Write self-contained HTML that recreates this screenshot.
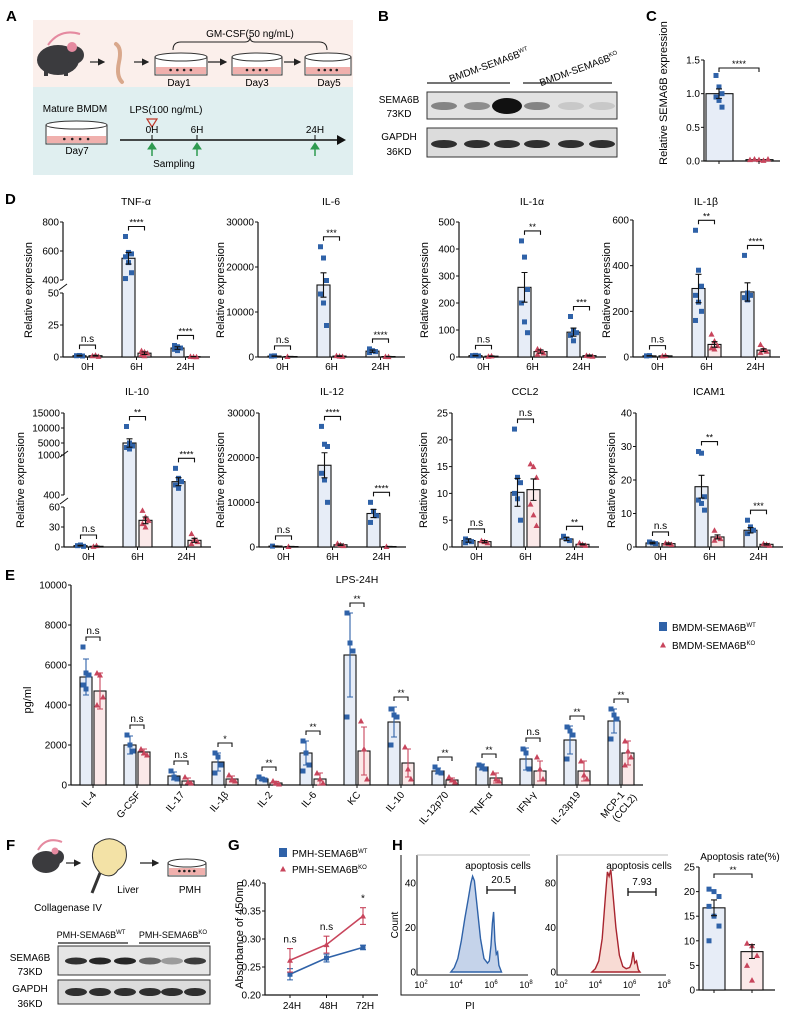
<!DOCTYPE html>
<html><head><meta charset="utf-8"><style>
html,body{margin:0;padding:0;background:#fff;}
svg{display:block;font-family:"Liberation Sans",Arial,sans-serif;}
</style></head><body>
<svg id="fig" width="797" height="1018" viewBox="0 0 797 1018" xmlns="http://www.w3.org/2000/svg">
<!-- Panel A -->
<g>
<text x="6" y="21" font-size="15" font-weight="bold">A</text>
<rect x="33" y="20" width="320" height="67" fill="#fbefeb"/>
<rect x="33" y="87" width="320" height="88" fill="#e0eff0"/>
<text x="250" y="37" font-size="10" text-anchor="middle">GM-CSF(50 ng/mL)</text>
<path d="M173,50 Q173,42 181,42 L245,42 Q250,42 250,37 Q250,42 255,42 L319,42 Q327,42 327,50" fill="none" stroke="#222" stroke-width="1"/>
<g>
<path d="M48,45 Q60,28 80,34" fill="none" stroke="#e58aa0" stroke-width="2"/>
<ellipse cx="58" cy="60" rx="21" ry="15" fill="#3b3b3e"/>
<ellipse cx="74" cy="55" rx="10" ry="9" fill="#3b3b3e"/>
<ellipse cx="72" cy="47" rx="5" ry="5" fill="#e58aa0"/>
<rect x="44" y="70" width="4" height="6" fill="#3b3b3e"/><rect x="64" y="70" width="4" height="6" fill="#3b3b3e"/>
</g>
<path d="M90,62 L104,62" stroke="#222" stroke-width="1.2" marker-end="url(#ah)"/>
<path d="M116,44 Q122,48 119,62 Q116,76 122,82" fill="none" stroke="#d9a88c" stroke-width="4" stroke-linecap="round"/>
<path d="M134,62 L148,62" stroke="#222" stroke-width="1.2" marker-end="url(#ah)"/>
<path d="M208,62 L226,62" stroke="#222" stroke-width="1.2" marker-end="url(#ah)"/>
<path d="M284,62 L300,62" stroke="#222" stroke-width="1.2" marker-end="url(#ah)"/>
<g id="dishes"></g>
<text x="179" y="86" font-size="10" text-anchor="middle">Day1</text>
<text x="257" y="86" font-size="10" text-anchor="middle">Day3</text>
<text x="329" y="86" font-size="10" text-anchor="middle">Day5</text>
<text x="75" y="112" font-size="10" text-anchor="middle">Mature BMDM</text>
<text x="77" y="154" font-size="10" text-anchor="middle">Day7</text>
<text x="166" y="113" font-size="10" text-anchor="middle">LPS(100 ng/mL)</text>
<path d="M147,119 L157,119 L152,127 Z" fill="none" stroke="#c0392b" stroke-width="1.2"/>
<path d="M120,140 L340,140" stroke="#111" stroke-width="1.4"/>
<path d="M337,135 L346,140 L337,145 Z" fill="#111"/>
<text x="152" y="133" font-size="10" text-anchor="middle">0H</text>
<text x="197" y="133" font-size="10" text-anchor="middle">6H</text>
<text x="315" y="133" font-size="10" text-anchor="middle">24H</text>
<path d="M152,135 V140 M197,135 V140 M315,135 V140" stroke="#111"/>
<g fill="#2e9a50" stroke="#2e9a50">
<path d="M152,156 V148" stroke-width="1.5"/><path d="M148,149 L152,143 L156,149 Z"/>
<path d="M197,156 V148" stroke-width="1.5"/><path d="M193,149 L197,143 L201,149 Z"/>
<path d="M315,156 V148" stroke-width="1.5"/><path d="M311,149 L315,143 L319,149 Z"/>
</g>
<text x="174" y="167" font-size="10" text-anchor="middle">Sampling</text>
</g>
<defs><marker id="ah" markerWidth="6" markerHeight="6" refX="5" refY="3" orient="auto"><path d="M0,0 L6,3 L0,6 Z" fill="#222"/></marker></defs>

<!-- Panel B -->
<g>
<text x="378" y="21" font-size="15" font-weight="bold">B</text>
<text x="490" y="68" font-size="10" text-anchor="middle" transform="rotate(-20 490 68)">BMDM-SEMA6B<tspan font-size="6" dy="-4">WT</tspan></text>
<text x="580" y="72" font-size="10" text-anchor="middle" transform="rotate(-20 580 72)">BMDM-SEMA6B<tspan font-size="6" dy="-4">KO</tspan></text>
<path d="M427,83 H510 M523,83 H612" stroke="#222" stroke-width="1.2"/>
<text x="399" y="103" font-size="10" text-anchor="middle">SEMA6B</text>
<text x="399" y="117" font-size="10" text-anchor="middle">73KD</text>
<text x="399" y="140" font-size="10" text-anchor="middle">GAPDH</text>
<text x="399" y="155" font-size="10" text-anchor="middle">36KD</text>
<rect x="427" y="92" width="190" height="27" fill="#e2e2e2" stroke="#333"/>
<rect x="427" y="128" width="190" height="29" fill="#dcdcdc" stroke="#333"/>
<g id="bandsB"></g>
</g>

<!-- Panel F static -->
<g>
<text x="6" y="850" font-size="15" font-weight="bold">F</text>
<g>
<path d="M38,850 Q46,836 62,842" fill="none" stroke="#e58aa0" stroke-width="2"/>
<ellipse cx="46" cy="862" rx="14" ry="11" fill="#3b3b3e"/>
<ellipse cx="57" cy="857" rx="7" ry="7" fill="#3b3b3e"/>
<ellipse cx="55" cy="851" rx="3.5" ry="3.5" fill="#e58aa0"/>
</g>
<path d="M66,863 L80,863" stroke="#222" stroke-width="1.2" marker-end="url(#ah)"/>
<g>
<path d="M95,845 Q110,832 125,846 Q130,862 118,870 Q112,880 100,873 Q88,860 95,845 Z" fill="#f3e2a6" stroke="#333"/>
<path d="M100,873 L92,893" stroke="#333" stroke-width="3"/>
</g>
<path d="M140,863 L158,863" stroke="#222" stroke-width="1.2" marker-end="url(#ah)"/>
<text x="128" y="893" font-size="10" text-anchor="middle">Liver</text>
<text x="190" y="893" font-size="10" text-anchor="middle">PMH</text>
<text x="68" y="911" font-size="10" text-anchor="middle">Collagenase IV</text>
<text x="91" y="938" font-size="9" text-anchor="middle">PMH-SEMA6B<tspan font-size="6" dy="-4">WT</tspan></text>
<text x="173" y="938" font-size="9" text-anchor="middle">PMH-SEMA6B<tspan font-size="6" dy="-4">KO</tspan></text>
<path d="M58,943 H128 M139,943 H210" stroke="#222" stroke-width="1.2"/>
<rect x="58" y="946" width="152" height="29" fill="#e6e6e6" stroke="#333"/>
<rect x="58" y="980" width="152" height="24" fill="#dcdcdc" stroke="#333"/>
<text x="30" y="961" font-size="10" text-anchor="middle">SEMA6B</text>
<text x="30" y="975" font-size="10" text-anchor="middle">73KD</text>
<text x="30" y="992" font-size="10" text-anchor="middle">GAPDH</text>
<text x="30" y="1007" font-size="10" text-anchor="middle">36KD</text>
<g id="bandsF"></g>
</g>
<g id="charts"></g>
</svg>
<script>
// ---------- data ----------
const dCats = ["0H", "6H", "24H"];
const tnfWT = [1, 550, 7], tnfKO = [1, 3, 0.3];
const tnfWTErr = [0.3, 40, 1], tnfKOErr = [0.3, 1, 0.1];
const tnfWTPts = [[1, 1.2, 0.8], [700, 590, 580, 560, 520, 450, 410], [9, 8, 7, 6, 5]];
const tnfKOPts = [[1, 1.5, 0.5], [5, 4, 3, 2, 1], [0.5, 0.3, 0.2]];
const tnfSig = ["n.s", "****", "****"];
const il6WT = [200, 16000, 1300], il6KO = [100, 200, 100];
const il6WTErr = [50, 2700, 250], il6KOErr = [30, 80, 30];
const il6WTPts = [[200, 250], [24500, 22000, 17000, 14000, 12000, 7000], [1800, 1400, 1200, 1000]];
const il6KOPts = [[100], [300, 200, 150], [100, 80]];
const il6Sig = ["n.s", "***", "****"];
const il1aWT = [5, 258, 92], il1aKO = [3, 20, 5];
const il1aWTErr = [1, 55, 15], il1aKOErr = [1, 6, 2];
const il1aWTPts = [[5, 6, 4], [430, 370, 250, 200, 130, 90], [150, 100, 90, 80, 60]];
const il1aKOPts = [[3, 4], [30, 25, 15, 10], [6, 4, 3]];
const il1aSig = ["n.s", "**", "***"];
const il1bWT = [5, 300, 285], il1bKO = [5, 55, 30];
const il1bWTErr = [1, 62, 40], il1bKOErr = [1, 12, 6];
const il1bWTPts = [[5, 6], [555, 380, 310, 270, 240, 200, 160], [445, 280, 270, 260, 250]];
const il1bKOPts = [[5, 6], [100, 70, 50, 40, 35], [55, 35, 25, 20]];
const il1bSig = ["n.s", "**", "****"];
const il10WT = [2, 5000, 600], il10KO = [1, 40, 10];
const il10WTErr = [0.5, 1400, 60], il10KOErr = [0.5, 5, 3];
const il10WTPts = [[2, 3, 1], [10500, 5000, 4000, 3500, 3000], [800, 650, 600, 550, 500]];
const il10KOPts = [[1, 2], [55, 45, 40, 35, 30], [20, 12, 8, 5]];
const il10Sig = ["n.s", "**", "****"];
const il12WT = [200, 18300, 7500], il12KO = [100, 500, 100];
const il12WTErr = [50, 2800, 900], il12KOErr = [30, 150, 30];
const il12WTPts = [[200], [27000, 23000, 22500, 16500, 15000, 10000], [10000, 8000, 7000, 5500]];
const il12KOPts = [[100], [800, 500, 300], [100]];
const il12Sig = ["n.s", "****", "****"];
const ccl2WT = [1.2, 10.2, 1.5], ccl2KO = [1.0, 10.7, 0.5];
const ccl2WTErr = [0.3, 2.6, 0.3], ccl2KOErr = [0.2, 2.0, 0.1];
const ccl2WTPts = [[1.5, 1.2, 1, 0.8], [22, 13, 12, 10, 9, 5], [2, 1.5, 1.2]];
const ccl2KOPts = [[1.2, 1, 0.8], [15.5, 15, 13, 8, 6, 4], [0.8, 0.5, 0.3]];
const ccl2Sig = ["n.s", "n.s", "**"];
const icamWT = [1.2, 18, 5], icamKO = [1.0, 3, 0.8];
const icamWTErr = [0.2, 3.4, 0.8], icamKOErr = [0.2, 0.6, 0.2];
const icamWTPts = [[1.5, 1.2, 1], [28.5, 28, 15, 14, 13, 11], [8, 6, 5, 4]];
const icamKOPts = [[1.2, 1, 0.8], [5, 3, 2.5, 2], [1, 0.8, 0.5]];
const icamSig = ["n.s", "**", "***"];

const eCats = ["IL-4", "G-CSF", "IL-17", "IL-1β", "IL-2", "IL-6", "KC", "IL-10", "IL-12p70", "TNF-α", "IFN-γ", "IL-23p19", "MCP-1|(CCL2)"];
const eWT = [5400, 2000, 450, 1150, 300, 1600, 6500, 3150, 700, 900, 1300, 2250, 3200];
const eKO = [4700, 1650, 200, 300, 100, 300, 1700, 1100, 250, 350, 700, 700, 1600];
const eWTErr = [900, 450, 200, 450, 80, 600, 2100, 750, 150, 150, 550, 700, 600];
const eKOErr = [900, 150, 150, 150, 80, 300, 1200, 700, 100, 250, 500, 500, 600];
const eWTPts = [[6900, 5600, 5500, 5000, 4800], [2500, 2000, 1700], [700, 400, 300], [1600, 1400, 1000, 600], [400, 300, 250], [2200, 1600, 1000, 700], [8600, 7100, 6700, 3400], [3800, 3500, 3400, 2000], [900, 700, 600], [1000, 900, 800], [1800, 1600, 800], [2900, 2700, 2500, 1300], [3800, 3500, 3300, 2300]];
const eKOPts = [[5600, 5500, 4400, 4000], [1800, 1600, 1500], [400, 150, 100], [500, 300, 200], [200, 100, 50], [600, 300, 100], [3200, 1800, 300], [1900, 800, 300], [400, 250, 150], [600, 300, 200], [1400, 800, 300], [1200, 500, 300], [2200, 1700, 1400, 1000]];
const eSig = ["n.s", "n.s", "n.s", "*", "**", "**", "**", "**", "**", "**", "n.s", "**", "**"];

const gCats = ["24H", "48H", "72H"];
const gWT = [0.237, 0.266, 0.285], gWTErr = [0.010, 0.007, 0.004];
const gKO = [0.262, 0.290, 0.341], gKOErr = [0.021, 0.015, 0.015];
const gSig = ["n.s", "n.s", "*"];

const h1Log = [3.7, 3.9, 4.1, 4.3, 4.5, 4.7, 4.85, 4.95, 5.05, 5.2, 5.4, 5.6, 5.8, 5.9, 6.0, 6.08, 6.15, 6.22, 6.3, 6.38, 6.45, 6.6];
const h1Count = [0, 2, 6, 14, 24, 33, 40, 43, 41, 30, 15, 6, 4, 5, 12, 22, 27, 14, 8, 9, 3, 0];
const h2Log = [3.8, 4.0, 4.2, 4.4, 4.6, 4.7, 4.8, 4.9, 5.0, 5.2, 5.4, 5.6, 5.8, 6.0, 6.1, 6.2, 6.3, 6.4, 6.5, 6.6];
const h2Count = [0, 3, 10, 30, 70, 90, 86, 92, 75, 40, 15, 5, 3, 4, 8, 18, 8, 10, 2, 0];
const apoWT = 16.7, apoKO = 7.8, apoWTErr = 1.6, apoKOErr = 1.4;
const apoWTPts = [20.5, 20, 19, 17, 15, 13, 10];
const apoKOPts = [9.5, 9, 7, 5, 2];
const cWT = 1.0, cKO = 0.02, cWTErr = 0.07;
const cWTPts = [1.27, 1.1, 1.0, 0.95, 0.9, 0.8];
const cKOPts = [0.02, 0.03, 0.02, 0.01, 0.03];

// ---------- helpers ----------
const NS = "http://www.w3.org/2000/svg";
const root = document.getElementById("charts");
const BLUE = "#2f62a8", RED = "#c8455c", WTF = "#e7edf7", KOF = "#fbe9e9";
function mk(tag, attrs, parent) {
  const e = document.createElementNS(NS, tag);
  for (const k in attrs) e.setAttribute(k, attrs[k]);
  (parent || root).appendChild(e);
  return e;
}
function tag(e, n, inter) {
  
  
  return e;
}
function txt(x, y, s, size, anchor, parent, extra) {
  const t = mk("text", Object.assign({x: x, y: y, "font-size": size, "text-anchor": anchor || "middle"}, extra || {}), parent);
  t.textContent = s;
  return t;
}
function segMap(segs) {
  return function (v) {
    let s = segs[segs.length - 1];
    for (const sg of segs) { if (v <= sg[1]) { s = sg; break; } }
    return s[2] + (v - s[0]) / (s[1] - s[0]) * (s[3] - s[2]);
  };
}
function sq(x, y, g, n) {
  const r = mk("rect", {x: x - 2.5, y: y - 2.5, width: 5, height: 5, fill: BLUE}, g);
  tag(r, n);
}
function tri(x, y, g, n) {
  const p = mk("path", {d: `M${x - 3},${y + 2.5} L${x + 3},${y + 2.5} L${x},${y - 3} Z`, fill: RED}, g);
  tag(p, n);
}
function errBar(x, y1, y2, col, g, n) {
  const p = mk("path", {d: `M${x},${y1} V${y2} M${x - 3},${y1} H${x + 3} M${x - 3},${y2} H${x + 3}`, stroke: col, "stroke-width": 1.1, fill: "none"}, g);
  tag(p, n);
}
function bracket(x1, x2, y, label, g, n) {
  const p = mk("path", {d: `M${x1},${y + 4} V${y} H${x2} V${y + 4}`, stroke: "#111", "stroke-width": 1.1, fill: "none"}, g);
  tag(p, n);
  const t = txt((x1 + x2) / 2, label === "n.s" ? y - 3 : y - 1, label, label === "n.s" ? 10 : 9, "middle", g);
  tag(t, n + "-label");
}

// ---------- grouped bar chart (panels D, E) ----------
function barChart(c) {
  const g = mk("g", {});
  tag(g, c.name);
  const y = segMap(c.segs);
  const y0 = c.segs[0][2];
  const n = c.cats.length;
  const xEnd = c.ox + n * c.band;
  const top = y(c.ticks[c.ticks.length - 1]);
  if (c.breaks) {
    c.segs.forEach(s => { const a = mk("path", {d: `M${c.ox},${s[2]} V${s[3]}`, stroke: "#111", "stroke-width": 1.2}, g); tag(a, "y-axis-segment"); });
    c.breaks.forEach(b => { const a = mk("path", {d: `M${c.ox - 4},${b + 3} L${c.ox + 4},${b - 3}`, stroke: "#111", "stroke-width": 1}, g); tag(a, "axis-break"); });
  } else {
    const a = mk("path", {d: `M${c.ox},${y0} V${top}`, stroke: "#111", "stroke-width": 1.2}, g); tag(a, "y-axis");
  }
  const xa = mk("path", {d: `M${c.ox},${y0} H${xEnd}`, stroke: "#111", "stroke-width": 1.2}, g); tag(xa, "x-axis");
  c.ticks.forEach((tv, i) => {
    const ty = y(tv);
    const tk = mk("path", {d: `M${c.ox - 3},${ty} H${c.ox}`, stroke: "#111"}, g); tag(tk, "y-tick");
    const lbl = c.tickLabels ? c.tickLabels[i] : String(tv);
    const t = txt(c.ox - 4, ty + 3.5, lbl, 10, "end", g); tag(t, "y-tick-label");
  });
  if (c.title) { const t = txt(c.titleX || (c.ox + xEnd) / 2, c.titleY, c.title, 10.5, "middle", g); tag(t, "chart-title"); }
  const yl = txt(c.ylx, c.yly, c.ylabel, 11, "middle", g, {transform: `rotate(-90 ${c.ylx} ${c.yly})`}); tag(yl, "y-axis-title");
  for (let i = 0; i < n; i++) {
    const cx = c.ox + c.band / 2 + i * c.band;
    const xw = cx - c.off, xk = cx + c.off;
    const b1 = mk("rect", {x: xw - c.bw / 2, y: y(c.wt[i]), width: c.bw, height: Math.max(0.5, y0 - y(c.wt[i])), fill: WTF, stroke: "#111", "stroke-width": 1.1}, g);
    tag(b1, "bar-wt-" + i);
    const b2 = mk("rect", {x: xk - c.bw / 2, y: y(c.ko[i]), width: c.bw, height: Math.max(0.5, y0 - y(c.ko[i])), fill: KOF, stroke: "#111", "stroke-width": 1.1}, g);
    tag(b2, "bar-ko-" + i);
    const ec1 = c.errColor ? BLUE : "#111", ec2 = c.errColor ? RED : "#111";
    c.wtPts[i].forEach((v, j) => sq(xw + ((j % 3) - 1) * 3, y(v), g, "point-wt"));
    c.koPts[i].forEach((v, j) => tri(xk + ((j % 3) - 1) * 3, y(v), g, "point-ko"));
    errBar(xw, y(Math.max(0, c.wt[i] - c.wtErr[i])), y(c.wt[i] + c.wtErr[i]), ec1, g, "error-wt-" + i);
    errBar(xk, y(Math.max(0, c.ko[i] - c.koErr[i])), y(c.ko[i] + c.koErr[i]), ec2, g, "error-ko-" + i);
    const tops = [y(c.wt[i] + c.wtErr[i]), y(c.ko[i] + c.koErr[i])].concat(c.wtPts[i].map(y), c.koPts[i].map(y));
    const by = Math.min.apply(null, tops) - 10;
    bracket(xw, xk, by, c.sig[i], g, "significance-" + i);
    const tk = mk("path", {d: `M${cx},${y0} V${y0 + 3}`, stroke: "#111"}, g); tag(tk, "x-tick");
    if (c.rotLabels) {
      const parts = c.cats[i].split("|");
      const lx = cx + 4, ly = y0 + 10;
      const t = mk("text", {x: lx, y: ly, "font-size": 10, "text-anchor": "end", transform: `rotate(-50 ${lx} ${ly})`}, g);
      tag(t, "x-tick-label");
      parts.forEach((p, k) => { const ts = mk("tspan", {x: lx + k * 6, dy: k === 0 ? 0 : 11}, t); ts.textContent = p; });
    } else {
      const t = txt(cx, y0 + 13, c.cats[i], 10, "middle", g); tag(t, "x-tick-label");
    }
  }
}

const TOPY0 = 357, TOPT = 222, BOTY0 = 547, BOTT = 413;
function dChart(name, ox, y0, yt, wt, ko, we, ke, wp, kp, sig, title, ticks, max, ylOff, extra) {
  barChart(Object.assign({name: name, ox: ox, band: 49, bw: 13, off: 8, cats: dCats, wt: wt, ko: ko, wtErr: we, koErr: ke, wtPts: wp, koPts: kp, sig: sig,
    title: title, titleY: y0 - 152, titleX: ox + 73, ticks: ticks, segs: [[0, max, y0, yt]], ylabel: "Relative expression", ylx: ox - ylOff, yly: y0 - 67}, extra || {}));
}
dChart("chart-tnf-alpha", 63, TOPY0, TOPT, tnfWT, tnfKO, tnfWTErr, tnfKOErr, tnfWTPts, tnfKOPts, tnfSig, "TNF-α", [0, 25, 50, 400, 600, 800], 800, 31,
  {segs: [[0, 50, 357, 293], [400, 800, 280, 222]], breaks: [287]});
dChart("chart-il6", 258, TOPY0, TOPT, il6WT, il6KO, il6WTErr, il6KOErr, il6WTPts, il6KOPts, il6Sig, "IL-6", [0, 10000, 20000, 30000], 30000, 34);
dChart("chart-il1a", 459, TOPY0, TOPT, il1aWT, il1aKO, il1aWTErr, il1aKOErr, il1aWTPts, il1aKOPts, il1aSig, "IL-1α", [0, 100, 200, 300, 400, 500], 500, 31);
dChart("chart-il1b", 633, TOPY0, 220, il1bWT, il1bKO, il1bWTErr, il1bKOErr, il1bWTPts, il1bKOPts, il1bSig, "IL-1β", [0, 200, 400, 600], 600, 23);
dChart("chart-il10", 64, BOTY0, BOTT, il10WT, il10KO, il10WTErr, il10KOErr, il10WTPts, il10KOPts, il10Sig, "IL-10", [0, 30, 60, 400, 1000, 5000, 10000, 15000], 15000, 40,
  {segs: [[0, 60, 547, 507], [400, 1000, 495, 455], [1000, 15000, 455, 413]], breaks: [501, 454]});
dChart("chart-il12", 259, BOTY0, BOTT, il12WT, il12KO, il12WTErr, il12KOErr, il12WTPts, il12KOPts, il12Sig, "IL-12", [0, 10000, 20000, 30000], 30000, 35);
dChart("chart-ccl2", 452, BOTY0, BOTT, ccl2WT, ccl2KO, ccl2WTErr, ccl2KOErr, ccl2WTPts, ccl2KOPts, ccl2Sig, "CCL2", [0, 5, 10, 15, 20, 25], 25, 25);
dChart("chart-icam1", 636, BOTY0, BOTT, icamWT, icamKO, icamWTErr, icamKOErr, icamWTPts, icamKOPts, icamSig, "ICAM1", [0, 10, 20, 30, 40], 40, 21);
{ const t = txt(5, 204, "D", 15, "start"); t.setAttribute("font-weight", "bold"); tag(t, "panel-d-label"); }

// Panel E
barChart({name: "chart-lps-24h", ox: 71, band: 44, bw: 12, off: 7, cats: eCats, wt: eWT, ko: eKO, wtErr: eWTErr, koErr: eKOErr, wtPts: eWTPts, koPts: eKOPts, sig: eSig,
  title: "LPS-24H", titleY: 583, titleX: 357, ticks: [0, 2000, 4000, 6000, 8000, 10000], segs: [[0, 10000, 785, 585]], ylabel: "pg/ml", ylx: 31, yly: 700, errColor: true, rotLabels: true});
{ const t = txt(5, 580, "E", 15, "start"); t.setAttribute("font-weight", "bold"); tag(t, "panel-e-label"); }
{ const lg = mk("g", {}); tag(lg, "legend-e");
  const r = mk("rect", {x: 659, y: 622, width: 8, height: 9, fill: BLUE}, lg); tag(r, "legend-wt-marker");
  const t1 = txt(672, 631, "BMDM-SEMA6B", 10, "start", lg); tag(t1, "legend-wt-entry");
  const s1 = mk("tspan", {"font-size": 6, dy: -4}, t1); s1.textContent = "WT";
  tri(663, 645, lg, "legend-ko-marker");
  const t2 = txt(672, 649, "BMDM-SEMA6B", 10, "start", lg); tag(t2, "legend-ko-entry");
  const s2 = mk("tspan", {"font-size": 6, dy: -4}, t2); s2.textContent = "KO";
}

// Panel C
{ const g = mk("g", {}); tag(g, "panel-c-chart");
  const t = txt(646, 21, "C", 15, "start", g); t.setAttribute("font-weight", "bold"); tag(t, "panel-c-label");
  const y = v => 161 - v / 1.5 * 101, ox = 704;
  const ax = mk("path", {d: `M${ox},60 V161 H780`, stroke: "#111", "stroke-width": 1.2, fill: "none"}, g); tag(ax, "axes");
  [0, 0.5, 1.0, 1.5].forEach(v => { mk("path", {d: `M${ox - 3},${y(v)} H${ox}`, stroke: "#111"}, g); const l = txt(ox - 4, y(v) + 3.5, v.toFixed(1), 10, "end", g); tag(l, "y-tick-label"); });
  const yl = txt(667, 93, "Relative SEMA6B expression", 11, "middle", g, {transform: "rotate(-90 667 93)"}); tag(yl, "y-axis-title");
  const b1 = mk("rect", {x: 706, y: y(cWT), width: 27, height: 161 - y(cWT), fill: WTF, stroke: "#111", "stroke-width": 1.1}, g); tag(b1, "bar-wt");
  const b2 = mk("rect", {x: 746, y: y(cKO), width: 27, height: Math.max(0.5, 161 - y(cKO)), fill: KOF, stroke: "#111", "stroke-width": 1.1}, g); tag(b2, "bar-ko");
  cWTPts.forEach((v, j) => sq(719 + ((j % 3) - 1) * 3, y(v), g, "point-wt"));
  cKOPts.forEach((v, j) => tri(750 + j * 4.5, y(v), g, "point-ko"));
  errBar(719, y(cWT - cWTErr), y(cWT + cWTErr), "#111", g, "error-wt");
  bracket(719, 759, 68, "****", g, "significance");
  mk("path", {d: "M719,161 V164 M759,161 V164", stroke: "#111"}, g);
}

// Panel G
{ const g = mk("g", {}); tag(g, "panel-g-chart");
  const t = txt(228, 850, "G", 15, "start", g); t.setAttribute("font-weight", "bold"); tag(t, "panel-g-label");
  const y = v => 995 - (v - 0.2) / 0.2 * 112, x = i => 290 + i * 36.5, ox = 265;
  const ax = mk("path", {d: `M${ox},883 V995 H378`, stroke: "#111", "stroke-width": 1.2, fill: "none"}, g); tag(ax, "axes");
  [0.20, 0.25, 0.30, 0.35, 0.40].forEach(v => { mk("path", {d: `M${ox - 3},${y(v)} H${ox}`, stroke: "#111"}, g); const l = txt(ox - 4, y(v) + 3.5, v.toFixed(2), 10, "end", g); tag(l, "y-tick-label"); });
  gCats.forEach((cName, i) => { mk("path", {d: `M${x(i)},995 V998`, stroke: "#111"}, g); const l = txt(x(i) + 2, 1009, cName, 10, "middle", g); tag(l, "x-tick-label"); });
  const yl = txt(243, 935, "Absorbance of 450nm", 11, "middle", g, {transform: "rotate(-90 243 935)"}); tag(yl, "y-axis-title");
  const lk = mk("path", {d: gKO.map((v, i) => (i ? "L" : "M") + x(i) + "," + y(v)).join(" "), stroke: RED, "stroke-width": 1.6, fill: "none"}, g); tag(lk, "line-ko");
  const lw = mk("path", {d: gWT.map((v, i) => (i ? "L" : "M") + x(i) + "," + y(v)).join(" "), stroke: BLUE, "stroke-width": 1.6, fill: "none"}, g); tag(lw, "line-wt");
  gWT.forEach((v, i) => { errBar(x(i), y(v - gWTErr[i]), y(v + gWTErr[i]), BLUE, g, "error-wt"); sq(x(i), y(v), g, "point-wt"); });
  gKO.forEach((v, i) => { errBar(x(i), y(v - gKOErr[i]), y(v + gKOErr[i]), RED, g, "error-ko"); tri(x(i), y(v), g, "point-ko"); });
  gSig.forEach((s, i) => { const l = txt(x(i), y(gKO[i] + gKOErr[i]) - 6, s, 10, "middle", g); tag(l, "significance-label"); });
  const r = mk("rect", {x: 279, y: 848, width: 8, height: 9, fill: BLUE}, g); tag(r, "legend-wt-marker");
  const t1 = txt(292, 857, "PMH-SEMA6B", 10, "start", g); tag(t1, "legend-wt-entry");
  const s1 = mk("tspan", {"font-size": 6, dy: -4}, t1); s1.textContent = "WT";
  tri(283, 869, g, "legend-ko-marker");
  const t2 = txt(292, 873, "PMH-SEMA6B", 10, "start", g); tag(t2, "legend-ko-entry");
  const s2 = mk("tspan", {"font-size": 6, dy: -4}, t2); s2.textContent = "KO";
}

// Panel H
{ const g = mk("g", {}); tag(g, "panel-h");
  const t = txt(392, 850, "H", 15, "start", g); t.setAttribute("font-weight", "bold"); tag(t, "panel-h-label");
  const fr = mk("path", {d: "M401,855 V995 H640", stroke: "#111", "stroke-width": 1, fill: "none"}, g); tag(fr, "flow-frame");
  const cl = txt(398, 925, "Count", 10, "middle", g, {transform: "rotate(-90 398 925)"}); tag(cl, "count-axis-title");
  const pl = txt(470, 1009, "PI", 10, "middle", g); tag(pl, "pi-axis-title");
  function hist(xL, xR, yMax, yTicks, logs, counts, col, fill, gate, val, nm) {
    const hg = mk("g", {}, g); tag(hg, nm);
    const xs = lv => xL + (lv - 2) / 6 * (xR - xL), ys = c => 972 - c * (972 - 883) / yMax;
    mk("path", {d: `M${xL - 4},${855} V975 H${xR + 2}`, stroke: "#111", fill: "none"}, hg);
    mk("path", {d: `M${xL - 4},855 H${xR + 4}`, stroke: "#bbb", fill: "none"}, hg);
    yTicks.forEach(v => { const l = txt(xL - 5, ys(v) + 3.5, String(v), 10, "end", hg); tag(l, "y-tick-label"); });
    [2, 4, 6, 8].forEach(p => { const l = txt(xs(p), 988, "10", 9, "middle", hg); tag(l, "x-tick-label"); const s = mk("tspan", {"font-size": 6, dy: -4}, l); s.textContent = String(p); });
    const d = logs.map((lv, i) => (i ? "L" : "M") + xs(lv).toFixed(1) + "," + ys(counts[i]).toFixed(1)).join(" ");
    const a = mk("path", {d: d + " Z", fill: fill, stroke: col, "stroke-width": 1.4}, hg); tag(a, "histogram-curve");
    mk("path", {d: `M${gate[0]},${gate[2]} H${gate[1]} M${gate[0]},${gate[2] - 4} V${gate[2] + 4} M${gate[1]},${gate[2] - 4} V${gate[2] + 4}`, stroke: "#111", "stroke-width": 1.3}, hg);
    const gt = txt((gate[0] + gate[1]) / 2, gate[2] - 7, val, 10, "middle", hg); tag(gt, "gate-value");
    const ap = txt((gate[0] + gate[1]) / 2 - 3, 869, "apoptosis cells", 10, "middle", hg); tag(ap, "gate-label");
  }
  hist(421, 526, 40, [0, 20, 40], h1Log, h1Count, BLUE, "#c5d3ea", [487, 515, 890], "20.5", "histogram-wt");
  hist(561, 664, 80, [0, 40, 80], h2Log, h2Count, "#a8252f", "#f8dbd4", [628, 656, 892], "7.93", "histogram-ko");
  const y = v => 990 - v / 25 * 123, ox = 699;
  const ax = mk("path", {d: `M${ox},867 V990 H775`, stroke: "#111", "stroke-width": 1.2, fill: "none"}, g); tag(ax, "apoptosis-axes");
  [0, 5, 10, 15, 20, 25].forEach(v => { mk("path", {d: `M${ox - 3},${y(v)} H${ox}`, stroke: "#111"}, g); const l = txt(ox - 4, y(v) + 3.5, String(v), 10, "end", g); tag(l, "y-tick-label"); });
  const tt = txt(740, 860, "Apoptosis rate(%)", 10, "middle", g); tag(tt, "apoptosis-title");
  const b1 = mk("rect", {x: 703, y: y(apoWT), width: 22, height: 990 - y(apoWT), fill: WTF, stroke: "#111", "stroke-width": 1.1}, g); tag(b1, "bar-wt");
  const b2 = mk("rect", {x: 741, y: y(apoKO), width: 22, height: 990 - y(apoKO), fill: KOF, stroke: "#111", "stroke-width": 1.1}, g); tag(b2, "bar-ko");
  apoWTPts.forEach((v, j) => sq(714 + ((j % 3) - 1) * 5, y(v), g, "point-wt"));
  apoKOPts.forEach((v, j) => tri(752 + ((j % 3) - 1) * 5, y(v), g, "point-ko"));
  errBar(714, y(apoWT - apoWTErr), y(apoWT + apoWTErr), "#111", g, "error-wt");
  errBar(752, y(apoKO - apoKOErr), y(apoKO + apoKOErr), "#111", g, "error-ko");
  bracket(714, 752, 874, "**", g, "significance");
  mk("path", {d: "M714,990 V993 M752,990 V993", stroke: "#111"}, g);
}

// Dishes (panel A)
{ const dg = document.getElementById("dishes");
  function dish(x, y, w, h, nm) {
    const g = mk("g", {}, dg); tag(g, nm);
    mk("rect", {x: x, y: y + 4, width: w, height: h - 4, fill: "#fff", stroke: "#333"}, g);
    mk("rect", {x: x + 1, y: y + h - 8, width: w - 2, height: 7, fill: "#f0b0ad"}, g);
    mk("ellipse", {cx: x + w / 2, cy: y + 4, rx: w / 2, ry: 4, fill: "#fff", stroke: "#333"}, g);
    for (let k = 0; k < 4; k++) mk("circle", {cx: x + w * (0.3 + k * 0.13), cy: y + h - 5, r: 1.3, fill: "#222"}, g);
  }
  dish(155, 53, 52, 22, "dish-day1"); dish(232, 53, 50, 22, "dish-day3"); dish(305, 53, 46, 22, "dish-day5");
  dish(46, 121, 61, 23, "dish-day7"); dish(168, 859, 38, 17, "dish-pmh");
}
// Blot bands
{ const bb = document.getElementById("bandsB");
  const laneX = [444, 477, 507, 537, 571, 602];
  const semaInt = [0.45, 0.4, 1.0, 0.45, 0.12, 0.12];
  laneX.forEach((lx, i) => {
    const e = mk("ellipse", {cx: lx, cy: 106, rx: i === 2 ? 15 : 13, ry: i === 2 ? 8 : 4, fill: "#111", opacity: semaInt[i]}, bb); tag(e, "sema6b-band");
    const e2 = mk("ellipse", {cx: lx, cy: 144, rx: 13, ry: 4, fill: "#111", opacity: 0.85}, bb); tag(e2, "gapdh-band");
  });
  const bf = document.getElementById("bandsF");
  const fX = [76, 100, 125, 150, 172, 195];
  const fInt = [0.85, 0.9, 0.9, 0.6, 0.35, 0.8];
  fX.forEach((lx, i) => {
    const e = mk("ellipse", {cx: lx, cy: 961, rx: 11, ry: 3.5, fill: "#111", opacity: fInt[i]}, bf); tag(e, "pmh-sema6b-band");
    const e2 = mk("ellipse", {cx: lx, cy: 992, rx: 11, ry: 4, fill: "#111", opacity: 0.85}, bf); tag(e2, "pmh-gapdh-band");
  });
}
</script>
</body></html>
